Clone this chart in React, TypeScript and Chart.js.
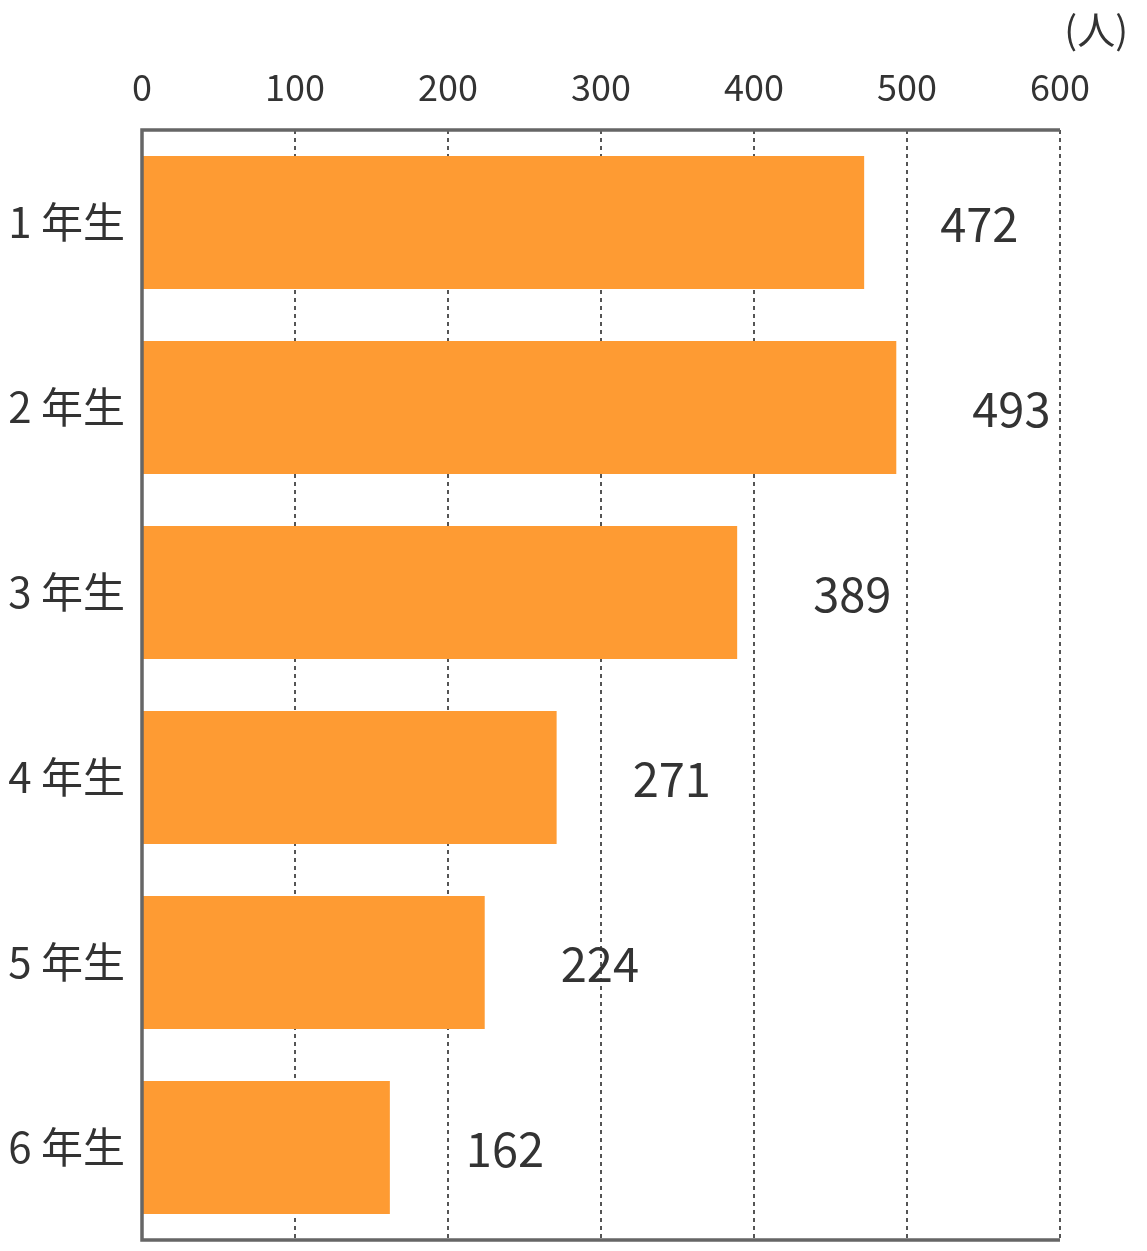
import React, { useEffect, useRef } from "react";
import { Chart, registerables } from "chart.js";

Chart.register(...registerables);

const categories = ["1 年生", "2 年生", "3 年生", "4 年生", "5 年生", "6 年生"];
const values = [472, 493, 389, 271, 224, 162];
const unitLabel = "(人)";
const xMin = 0;
const xMax = 600;
const xStep = 100;

const FONT = "'Noto Sans CJK JP', 'Noto Sans', sans-serif";
const TEXT = "#333333";
const AXIS = "#666666";
const BAR = "#FE9B33";

export default function App() {
  const ref = useRef<HTMLCanvasElement | null>(null);

  useEffect(() => {
    const canvas = ref.current;
    if (!canvas) return;

    const framePlugin = {
      id: "frame",
      afterDatasetsDraw(chart: any) {
        const { ctx, chartArea } = chart;
        const { left, right, top, bottom } = chartArea;
        ctx.save();
        ctx.strokeStyle = AXIS;
        ctx.lineWidth = 3.5;
        ctx.beginPath();
        ctx.moveTo(right, top);
        ctx.lineTo(left, top);
        ctx.lineTo(left, bottom);
        ctx.lineTo(right, bottom);
        ctx.stroke();

        // value labels
        const meta = chart.getDatasetMeta(0);
        ctx.fillStyle = TEXT;
        ctx.font = `47px ${FONT}`;
        ctx.textAlign = "left";
        ctx.textBaseline = "middle";
        meta.data.forEach((bar: any, i: number) => {
          ctx.fillText(String(values[i]), bar.x + 76, bar.y + 2);
        });

        // unit label
        ctx.font = `38px ${FONT}`;
        ctx.textAlign = "right";
        ctx.fillText(unitLabel, 1128, 30);
        ctx.restore();
      },
    };

    const chart = new Chart(canvas, {
      type: "bar",
      data: {
        labels: categories,
        datasets: [
          {
            data: values,
            backgroundColor: BAR,
            borderWidth: 0,
            barPercentage: 0.72,
            categoryPercentage: 1,
          },
        ],
      },
      options: {
        indexAxis: "y",
        animation: false,
        responsive: false,
        maintainAspectRatio: false,
        layout: { padding: { left: 0, right: 87, top: 0, bottom: 11 } },
        plugins: {
          legend: { display: false },
          tooltip: { enabled: false },
        },
        scales: {
          x: {
            position: "top",
            min: xMin,
            max: xMax,
            ticks: {
              stepSize: xStep,
              color: TEXT,
              font: { family: FONT, size: 36 },
              padding: 21,
            },
            grid: {
              color: "#555555",
              lineWidth: 2,
              drawTicks: false,
            },
            border: { display: false, dash: [4, 4] },
            afterFit(scale: any) {
              scale.height = 130;
            },
          },
          y: {
            ticks: {
              color: TEXT,
              font: { family: FONT, size: 42 },
              padding: 17,
            },
            grid: { display: false, drawTicks: false },
            border: { display: false },
            afterFit(scale: any) {
              scale.width = 142;
              scale.paddingTop = 0;
              scale.paddingBottom = 0;
            },
          },
        },
      },
      plugins: [framePlugin],
    } as any);

    return () => chart.destroy();
  }, []);

  return (
    <div style={{ position: "absolute", left: 0, top: 0, width: 1147, height: 1251, background: "#fff" }}>
      <canvas ref={ref} width={1147} height={1251} style={{ width: 1147, height: 1251, display: "block" }} />
    </div>
  );
}
